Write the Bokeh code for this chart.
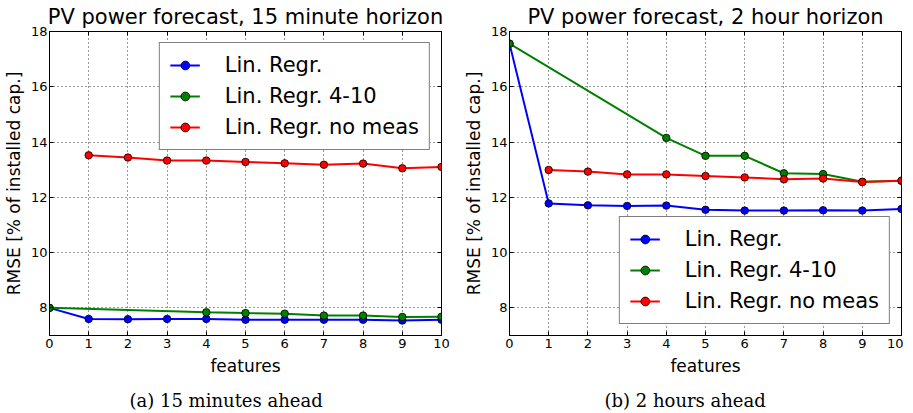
from bokeh.plotting import figure
from bokeh.models import FixedTicker, Range1d, Title, Legend, LegendItem, LinearAxis
from bokeh.layouts import row
from bokeh.embed import file_html
from bokeh.resources import INLINE

# ---- data ----
features_all = list(range(11))
features_sub = [0, 4, 5, 6, 7, 8, 9, 10]
features_nomeas = list(range(1, 11))
y_ticks = [8, 10, 12, 14, 16, 18]

# 15 minute horizon
lr_15 = [8.00, 7.60, 7.59, 7.60, 7.60, 7.57, 7.57, 7.57, 7.57, 7.54, 7.57]
lr410_15 = [8.00, 7.84, 7.81, 7.79, 7.72, 7.72, 7.67, 7.68]
lrnm_15 = [13.52, 13.44, 13.33, 13.33, 13.28, 13.23, 13.18, 13.22, 13.05, 13.10]

# 2 hour horizon
lr_2h = [17.56, 11.78, 11.71, 11.69, 11.70, 11.55, 11.52, 11.52, 11.53, 11.52, 11.58]
lr410_2h = [17.56, 14.15, 13.50, 13.50, 12.87, 12.84, 12.56, 12.60]
lrnm_2h = [12.99, 12.93, 12.83, 12.83, 12.77, 12.72, 12.65, 12.68, 12.55, 12.60]

labels = ["Lin. Regr.", "Lin. Regr. 4-10", "Lin. Regr. no meas"]
colors = ["#0000ff", "#008000", "#ff0000"]

FONT = "DejaVu Sans"


def style_axis(ax):
    ax.major_tick_in = 4
    ax.major_tick_out = 0
    ax.minor_tick_line_color = None
    ax.axis_line_color = "black"
    ax.major_tick_line_color = "black"
    ax.major_label_text_font = FONT
    ax.major_label_text_font_size = "13px"
    ax.major_label_text_color = "black"
    ax.axis_label_text_font = FONT
    ax.axis_label_text_font_size = "17px"
    ax.axis_label_text_font_style = "normal"
    ax.axis_label_text_color = "black"


def make_panel(title, caption, cap_offset, ys, legend_loc, bl, fw, br):
    p = figure(frame_width=fw, frame_height=304,
               x_range=Range1d(0, 10), y_range=Range1d(7, 18),
               output_backend="svg", toolbar_location=None,
               min_border_left=bl, min_border_right=br,
               min_border_top=0, min_border_bottom=0,
               background_fill_color="white", border_fill_color="white",
               outline_line_color="black", outline_line_width=1)
    p.title = Title(text=title, align="center", text_font=FONT,
                    text_font_size="21px", text_font_style="normal",
                    text_color="black", standoff=5)

    style_axis(p.xaxis[0])
    style_axis(p.yaxis[0])
    p.xaxis.ticker = FixedTicker(ticks=features_all)
    p.yaxis.ticker = FixedTicker(ticks=y_ticks)
    p.xaxis.axis_label = "features"
    p.yaxis.axis_label = "RMSE [% of installed cap.]"
    p.xaxis.major_label_standoff = 3
    p.yaxis.major_label_standoff = 2
    p.xaxis.axis_label_standoff = 5
    p.yaxis.axis_label_standoff = 4

    # mirrored tick marks on the top and right edges (labels not drawn)
    top = LinearAxis(ticker=FixedTicker(ticks=features_all))
    right = LinearAxis(ticker=FixedTicker(ticks=y_ticks))
    for ax in (top, right):
        style_axis(ax)
        ax.major_label_text_font_size = "1px"
        ax.major_label_text_color = None
        ax.major_label_standoff = 0
    p.add_layout(top, "above")
    p.add_layout(right, "right")

    for g in (p.xgrid, p.ygrid):
        g.grid_line_color = "black"
        g.grid_line_dash = "1 3"
        g.grid_line_alpha = 0.8
        g.grid_line_width = 1
    p.xgrid.ticker = FixedTicker(ticks=features_all)
    p.ygrid.ticker = FixedTicker(ticks=y_ticks)

    xs = [features_all, features_sub, features_nomeas]
    items = []
    for x, y, c, lab in zip(xs, ys, colors, labels):
        ln = p.line(x, y, line_color=c, line_width=2)
        sc = p.scatter(x, y, size=7.5, fill_color=c, line_color="black", line_width=0.8)
        items.append(LegendItem(label=lab, renderers=[ln, sc]))

    leg = Legend(items=items, location=legend_loc, margin=11, padding=10,
                 spacing=7, glyph_width=30, glyph_height=22, label_standoff=25,
                 label_text_font=FONT, label_text_font_size="21px",
                 label_text_color="black",
                 border_line_color="black", border_line_width=1,
                 background_fill_color="white", background_fill_alpha=1)
    p.add_layout(leg)

    p.add_layout(Title(text=caption, align="left", offset=cap_offset,
                       text_font="DejaVu Serif", text_font_size="18px",
                       text_font_style="normal", text_color="black",
                       standoff=18), "below")
    return p


p1 = make_panel("PV power forecast, 15 minute horizon", "(a)  15 minutes ahead", 80,
                [lr_15, lr410_15, lrnm_15], "top_right", 43, 392, 17)
p2 = make_panel("PV power forecast, 2 hour horizon", "(b)  2 hours ahead", 95,
                [lr_2h, lr410_2h, lrnm_2h], "bottom_right", 51, 392, 2)

layout = row(p1, p2)
open("out.html", "w").write(file_html(layout, INLINE))
